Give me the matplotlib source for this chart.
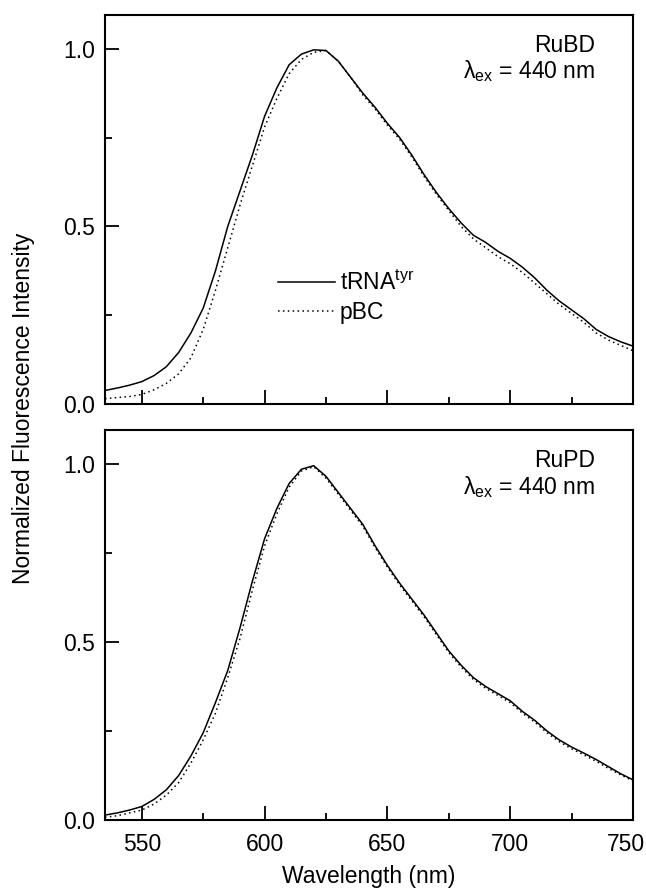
import matplotlib
matplotlib.use('Agg')
import matplotlib.pyplot as plt
from matplotlib.ticker import MultipleLocator, FuncFormatter

plt.rcParams['font.family'] = ['Liberation Sans', 'DejaVu Sans']
plt.rcParams['mathtext.fontset'] = 'custom'
plt.rcParams['mathtext.rm'] = 'Liberation Sans'
plt.rcParams['mathtext.it'] = 'Liberation Sans:italic'

# wavelengths (nm)
wl = [535, 540, 545, 550, 555, 560, 565, 570, 575, 580, 585, 590, 595, 600,
      605, 610, 615, 620, 625, 630, 635, 640, 645, 650, 655, 660, 665, 670,
      675, 680, 685, 690, 695, 700, 705, 710, 715, 720, 725, 730, 735, 740,
      745, 750]

# RuBD
rubd_trna = [.038, .045, .053, .063, .080, .105, .145, .200, .270, .375, .500, .600,
             .700, .810, .890, .955, .985, .997, .995, .965, .920, .875, .835, .790,
             .750, .700, .645, .595, .550, .510, .475, .455, .430, .410, .385, .355,
             .320, .290, .265, .240, .210, .190, .175, .163]
rubd_pbc = [.015, .018, .021, .027, .040, .058, .085, .130, .210, .320, .440, .560,
            .670, .780, .860, .930, .970, .990, .995, .965, .920, .870, .830, .785,
            .745, .695, .640, .590, .545, .500, .465, .440, .415, .395, .370, .340,
            .310, .280, .255, .230, .200, .180, .165, .150]

# RuPD
rupd_trna = [.014, .020, .028, .038, .058, .085, .125, .180, .245, .330, .420, .540,
             .670, .790, .875, .945, .985, .995, .965, .920, .875, .830, .770, .715,
             .665, .620, .575, .525, .475, .435, .400, .375, .355, .335, .305, .280,
             .250, .225, .205, .188, .170, .150, .130, .113]
rupd_pbc = [.008, .012, .020, .028, .045, .070, .105, .160, .225, .300, .400, .510,
            .645, .770, .860, .935, .980, .992, .960, .915, .870, .825, .765, .710,
            .660, .615, .570, .520, .470, .430, .395, .370, .350, .330, .300, .275,
            .245, .220, .200, .183, .165, .145, .127, .110]

fs = 16.5

fig = plt.figure(figsize=(6.46, 8.93), dpi=100)
ax1 = fig.add_axes([0.1625, 0.5476, 0.8173, 0.4356])
ax2 = fig.add_axes([0.1625, 0.0817, 0.8173, 0.4367])

dot = (0, (1, 2.2))
for ax, a, b, name in [(ax1, rubd_trna, rubd_pbc, 'RuBD'), (ax2, rupd_trna, rupd_pbc, 'RuPD')]:
    ax.plot(wl, a, color='black', lw=1.1, label='tRNA$^{\\rm tyr}$')
    ax.plot(wl, b, color='black', lw=1.1, linestyle=dot, label='pBC')
    ax.set_xlim(535, 750)
    ax.set_ylim(0, 1.095)
    ax.xaxis.set_major_locator(MultipleLocator(50))
    ax.xaxis.set_minor_locator(MultipleLocator(25))
    ax.yaxis.set_major_locator(MultipleLocator(0.5))
    ax.yaxis.set_minor_locator(MultipleLocator(0.25))
    ax.yaxis.set_major_formatter(plt.FormatStrFormatter('%.1f'))
    ax.tick_params(which='major', direction='in', length=10, width=1.3, labelsize=fs)
    ax.tick_params(which='minor', direction='in', length=5, width=1.3)
    ax.tick_params(axis='x', pad=9)
    ax.tick_params(axis='y', pad=7)
    for s in ax.spines.values():
        s.set_linewidth(1.5)
    ax.text(0.928, 0.922, name, transform=ax.transAxes, ha='right', va='center', fontsize=fs)
    ax.text(0.928, 0.855, 'λ$_{\\rm ex}$ = 440 nm', transform=ax.transAxes,
            ha='right', va='center', fontsize=fs)

ax1.tick_params(labelbottom=False)
ax1.legend(loc='center left', bbox_to_anchor=(0.31, 0.275), frameon=False, fontsize=fs,
           handlelength=2.5, handletextpad=0.2, labelspacing=0.25, borderaxespad=0)

# last x label drawn by hand, nudged left so it stays inside the figure
ax2.xaxis.set_major_formatter(FuncFormatter(lambda v, p: '' if v >= 750 else f'{v:.0f}'))
ax2.annotate('750', xy=(750, 0), xycoords=('data', 'axes fraction'), xytext=(-5, -9),
             textcoords='offset points', ha='center', va='top', fontsize=fs)

ax2.set_xlabel('Wavelength (nm)', fontsize=fs, labelpad=7)
fig.text(0.037, 0.543, 'Normalized Fluorescence Intensity', rotation=90,
         ha='center', va='center', fontsize=fs)

fig.savefig('out.png', dpi=100)
